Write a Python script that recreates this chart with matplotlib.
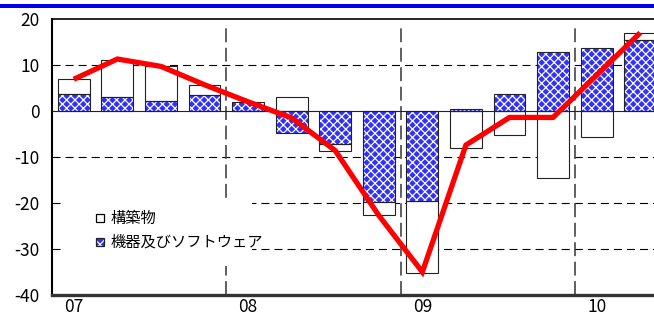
"""Quarterly contribution chart: structures vs. equipment & software,
with the total as a red line.  Saves out.png (654x320).
"""

import matplotlib
matplotlib.use("Agg")
import matplotlib.pyplot as plt
from matplotlib.patches import Rectangle
import numpy as np

plt.rcParams["font.family"] = ["Noto Sans CJK JP", "DejaVu Sans"]
plt.rcParams["lines.scale_dashes"] = False
plt.rcParams["hatch.linewidth"] = 0.9

# ---------------------------------------------------------------------------
# Data
# ---------------------------------------------------------------------------

quarters = ["07Q1", "07Q2", "07Q3", "07Q4",
            "08Q1", "08Q2", "08Q3", "08Q4",
            "09Q1", "09Q2", "09Q3", "09Q4",
            "10Q1", "10Q2"]
structures = [3.2, 8.1, 7.6, 2.3, 0.0, 3.0, -1.5, -3.0,
              -15.8, -8.1, -5.2, -14.6, -5.7, 1.5]
equipment = [3.7, 3.0, 2.1, 3.4, 2.0, -4.8, -7.2, -19.7,
             -19.5, 0.5, 3.7, 12.8, 13.7, 15.5]
total = [6.9, 11.3, 9.7, 5.7, 2.0, -1.5, -8.6, -22.7,
         -35.0, -7.4, -1.4, -1.4, 7.8, 17.0]

year_labels = ["07", "08", "09", "10"]
year_label_pos = [0, 4, 8, 12]
year_bounds = [3.5, 7.5, 11.5]

yticks = [20, 10, 0, -10, -20, -30, -40]
legend_labels = ["構築物", "機器及びソフトウェア"]

BLUE = "#3030ff"


def stack_bottoms(first, second):
    """Bottom for the second series when stacked on the first, sign-aware."""
    first = np.asarray(first)
    second = np.asarray(second)
    same_sign = np.sign(first) == np.sign(second)
    return np.where(same_sign, first, 0.0)


def main():
    fig = plt.figure(figsize=(6.54, 3.20), dpi=100)
    ax = fig.add_axes([52 / 654, 1 - 295 / 320, 610 / 654, 276 / 320])

    x = np.arange(len(quarters))
    width = 0.73

    # grid lines
    for v in [10, -10, -20, -30]:
        ax.axhline(v, color="black", lw=0.8, dashes=(5.8, 3.6), zorder=1)
    for b in year_bounds:
        ax.axvline(b, color="#444444", lw=1.2, dashes=(10, 4), zorder=1,
                   ymax=0.985)
    ax.axhline(0, color="#222222", lw=0.8, zorder=3)

    # equipment bars (hatched blue) from zero
    ax.bar(x, equipment, width, color=BLUE, hatch="xxxx", edgecolor="white",
           lw=0, zorder=2)
    ax.bar(x, equipment, width, fill=False, edgecolor="#222222", lw=0.8,
           zorder=2.5)

    # structures stacked on top (white)
    bottoms = stack_bottoms(equipment, structures)
    ax.bar(x, structures, width, bottom=bottoms, color="white",
           edgecolor="#222222", lw=0.8, zorder=2)

    # total line
    ax.plot(x, total, color="#ff0000", lw=3.8, solid_joinstyle="miter",
            solid_capstyle="butt", zorder=4)

    ax.set_xlim(-0.5, 13.5)
    ax.set_ylim(-40, 20)
    ax.set_yticks(yticks)
    ax.set_yticklabels([str(t) for t in yticks], fontsize=12.5)
    ax.set_xticks(year_label_pos)
    ax.set_xticklabels(year_labels, fontsize=12.5)
    ax.tick_params(axis="both", length=0, pad=9)
    ax.tick_params(axis="x", pad=2)

    for side in ["left", "top", "right"]:
        ax.spines[side].set_color("black")
    ax.spines["left"].set_linewidth(1.5)
    ax.spines["top"].set_linewidth(1.2)
    ax.spines["bottom"].set_color("#333333")
    ax.spines["bottom"].set_linewidth(2.4)

    # legend, drawn by hand on a white box
    def ax_xy(px, py):
        return (px - 52) / 610, (295 - py) / 276

    bx, by = ax_xy(62, 266)
    bx2, by2 = ax_xy(252, 198)
    ax.add_patch(Rectangle((bx, by), bx2 - bx, by2 - by, transform=ax.transAxes,
                           facecolor="white", edgecolor="none", zorder=3))
    sw, sh = 8 / 610, 8 / 276
    for row, (label, py) in enumerate(zip(legend_labels, [218, 242])):
        mx, my = ax_xy(96, py + 4)
        if row == 0:
            ax.add_patch(Rectangle((mx, my), sw, sh, transform=ax.transAxes,
                                   facecolor="white", edgecolor="black",
                                   lw=0.9, zorder=5))
        else:
            ax.add_patch(Rectangle((mx, my), sw, sh, transform=ax.transAxes,
                                   facecolor=BLUE, hatch="xxx",
                                   edgecolor="white", lw=0, zorder=5))
            ax.add_patch(Rectangle((mx, my), sw, sh, transform=ax.transAxes,
                                   fill=False, edgecolor="#222222", lw=0.9,
                                   zorder=5))
        tx, ty = ax_xy(111, py)
        ax.text(tx, ty, label, transform=ax.transAxes, fontsize=11,
                va="center", ha="left", zorder=6)

    # blue band across the top of the page
    fig.add_artist(Rectangle((0, 1 - 8 / 320), 1, 4 / 320,
                             transform=fig.transFigure, facecolor="#0000ee",
                             edgecolor="none"))

    fig.savefig("out.png", dpi=100)
    plt.close(fig)


if __name__ == "__main__":
    main()
